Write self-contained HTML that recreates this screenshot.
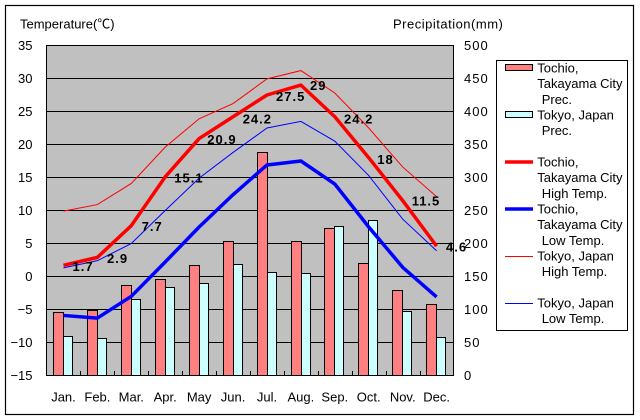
<!DOCTYPE html>
<html><head><meta charset="utf-8"><style>
html,body{margin:0;padding:0;background:#fff;}
svg{display:block;}
text{font-family:"Liberation Sans","Noto Sans CJK JP",sans-serif;font-size:13px;fill:#000;}
.dl{font-weight:bold;letter-spacing:1px;}
.ra{letter-spacing:1px;}
</style></head><body>
<svg width="640" height="420" viewBox="0 0 640 420" xmlns="http://www.w3.org/2000/svg">
<rect x="0" y="0" width="640" height="420" fill="#fff"/>
<rect x="5.5" y="5.5" width="628" height="409" fill="#fff" stroke="#000" stroke-width="1.2"/>
<!-- plot area -->
<rect x="46.5" y="45.5" width="407" height="330" fill="#C0C0C0"/>
<g stroke="#000" stroke-width="1" shape-rendering="crispEdges">
<line x1="46.5" y1="78.5" x2="453.5" y2="78.5"/>
<line x1="46.5" y1="111.5" x2="453.5" y2="111.5"/>
<line x1="46.5" y1="144.5" x2="453.5" y2="144.5"/>
<line x1="46.5" y1="177.5" x2="453.5" y2="177.5"/>
<line x1="46.5" y1="210.5" x2="453.5" y2="210.5"/>
<line x1="46.5" y1="243.5" x2="453.5" y2="243.5"/>
<line x1="46.5" y1="276.5" x2="453.5" y2="276.5"/>
<line x1="46.5" y1="309.5" x2="453.5" y2="309.5"/>
<line x1="46.5" y1="342.5" x2="453.5" y2="342.5"/>
</g>
<!-- bars -->
<g stroke="#000" stroke-width="1" shape-rendering="crispEdges">
<g fill="#FF8080">
<rect x="53.5" y="312.5" width="10" height="63"/>
<rect x="87.5" y="310.5" width="10" height="65"/>
<rect x="121.5" y="285.5" width="10" height="90"/>
<rect x="155.5" y="279.5" width="10" height="96"/>
<rect x="189.5" y="265.5" width="10" height="110"/>
<rect x="223.5" y="241.5" width="10" height="134"/>
<rect x="257.5" y="152.5" width="10" height="223"/>
<rect x="291.5" y="241.5" width="10" height="134"/>
<rect x="324.5" y="228.5" width="10" height="147"/>
<rect x="358.5" y="263.5" width="10" height="112"/>
<rect x="392.5" y="290.5" width="10" height="85"/>
<rect x="426.5" y="304.5" width="10" height="71"/>
</g>
<g fill="#CCFFFF">
<rect x="63.5" y="336.5" width="9" height="39"/>
<rect x="97.5" y="338.5" width="9" height="37"/>
<rect x="131.5" y="299.5" width="9" height="76"/>
<rect x="165.5" y="287.5" width="9" height="88"/>
<rect x="199.5" y="283.5" width="9" height="92"/>
<rect x="233.5" y="264.5" width="9" height="111"/>
<rect x="267.5" y="272.5" width="9" height="103"/>
<rect x="301.5" y="273.5" width="9" height="102"/>
<rect x="334.5" y="226.5" width="9" height="149"/>
<rect x="368.5" y="220.5" width="9" height="155"/>
<rect x="402.5" y="311.5" width="9" height="64"/>
<rect x="436.5" y="337.5" width="9" height="38"/>
</g>
</g>
<!-- lines -->
<polyline fill="none" stroke="#FF0000" stroke-width="3.5" stroke-linejoin="round" points="63.46,265.28 97.38,257.36 131.30,225.68 165.22,176.84 199.14,138.56 233.06,116.78 266.98,95.0 300.90,85.1 334.82,116.78 368.74,157.7 402.66,200.6 436.58,246.14"/>
<polyline fill="none" stroke="#0000FF" stroke-width="3.5" stroke-linejoin="round" points="63.46,315.44 97.38,318.08 131.30,296.3 165.22,261.98 199.14,227.0 233.06,194.66 266.98,164.96 300.90,161.0 334.82,184.1 368.74,227.0 402.66,267.26 436.58,296.96"/>
<polyline fill="none" stroke="#FF0000" stroke-width="1" points="63.46,211.16 97.38,204.56 131.30,183.44 165.22,147.14 199.14,118.76 233.06,103.58 266.98,78.83 300.90,70.58 334.82,93.02 368.74,128.0 402.66,166.94 436.58,196.64"/>
<polyline fill="none" stroke="#0000FF" stroke-width="1" points="63.46,267.92 97.38,260.66 131.30,243.5 165.22,210.5 199.14,178.16 233.06,152.42 266.98,128.0 300.90,121.4 334.82,141.2 368.74,175.52 402.66,219.08 436.58,250.76"/>
<!-- ticks & border -->
<g stroke="#000" stroke-width="1" shape-rendering="crispEdges">
<line x1="80.5" y1="371" x2="80.5" y2="375"/>
<line x1="114.5" y1="371" x2="114.5" y2="375"/>
<line x1="148.5" y1="371" x2="148.5" y2="375"/>
<line x1="182.5" y1="371" x2="182.5" y2="375"/>
<line x1="216.5" y1="371" x2="216.5" y2="375"/>
<line x1="250.5" y1="371" x2="250.5" y2="375"/>
<line x1="284.5" y1="371" x2="284.5" y2="375"/>
<line x1="318.5" y1="371" x2="318.5" y2="375"/>
<line x1="352.5" y1="371" x2="352.5" y2="375"/>
<line x1="386.5" y1="371" x2="386.5" y2="375"/>
<line x1="420.5" y1="371" x2="420.5" y2="375"/>
<rect x="46.5" y="45.5" width="407" height="330" fill="none"/>
</g>
<!-- axis titles -->
<text x="20" y="28.5">Temperature(℃)</text>
<text x="393" y="28.5" style="letter-spacing:0.5px">Precipitation(mm)</text>
<!-- left labels -->
<g text-anchor="end">
<text x="32.5" y="50">35</text>
<text x="32.5" y="83">30</text>
<text x="32.5" y="116">25</text>
<text x="32.5" y="149">20</text>
<text x="32.5" y="182">15</text>
<text x="32.5" y="215">10</text>
<text x="32.5" y="248">5</text>
<text x="32.5" y="281">0</text>
<text x="32.5" y="314">−5</text>
<text x="32.5" y="347">−10</text>
<text x="32.5" y="380">−15</text>
</g>
<!-- right labels -->
<g class="ra">
<text x="464" y="50">500</text>
<text x="464" y="83">450</text>
<text x="464" y="116">400</text>
<text x="464" y="149">350</text>
<text x="464" y="182">300</text>
<text x="464" y="215">250</text>
<text x="464" y="248">200</text>
<text x="464" y="281">150</text>
<text x="464" y="314">100</text>
<text x="464" y="347">50</text>
<text x="464" y="380">0</text>
</g>
<!-- months -->
<g text-anchor="middle">
<text x="63.5" y="401.5">Jan.</text>
<text x="97.4" y="401.5">Feb.</text>
<text x="131.3" y="401.5">Mar.</text>
<text x="165.2" y="401.5">Apr.</text>
<text x="199.1" y="401.5">May</text>
<text x="233.1" y="401.5">Jun.</text>
<text x="267" y="401.5">Jul.</text>
<text x="300.9" y="401.5">Aug.</text>
<text x="334.8" y="401.5">Sep.</text>
<text x="368.7" y="401.5">Oct.</text>
<text x="402.7" y="401.5">Nov.</text>
<text x="436.6" y="401.5">Dec.</text>
</g>
<!-- data labels -->
<g class="dl">
<text x="72.5" y="271">1.7</text>
<text x="107" y="263">2.9</text>
<text x="141.7" y="231">7.7</text>
<text x="174.3" y="182.5">15.1</text>
<text x="207.3" y="144">20.9</text>
<text x="242.7" y="123.3">24.2</text>
<text x="276" y="101">27.5</text>
<text x="310" y="90">29</text>
<text x="344" y="123.3">24.2</text>
<text x="377.3" y="164">18</text>
<text x="411.7" y="205.7">11.5</text>
<text x="446" y="251.7">4.6</text>
</g>
<!-- legend -->
<rect x="496.5" y="60.5" width="131" height="270" fill="#fff" stroke="#000" stroke-width="1" shape-rendering="crispEdges"/>
<g stroke="#000" stroke-width="1" shape-rendering="crispEdges">
<rect x="505.5" y="64.5" width="27" height="6" fill="#FF8080"/>
<rect x="505.5" y="111.5" width="27" height="6" fill="#CCFFFF"/>
</g>
<line x1="505" y1="162" x2="533" y2="162" stroke="#FF0000" stroke-width="3.5"/>
<line x1="505" y1="209" x2="533" y2="209" stroke="#0000FF" stroke-width="3.5"/>
<line x1="505" y1="256.5" x2="533" y2="256.5" stroke="#FF0000" stroke-width="1"/>
<line x1="505" y1="303.5" x2="533" y2="303.5" stroke="#0000FF" stroke-width="1"/>
<text x="537.3" y="72.5">Tochio,</text>
<text x="537.3" y="88.2">Takayama City</text>
<text x="541.7" y="103.9">Prec.</text>
<text x="537.3" y="119.5">Tokyo, Japan</text>
<text x="541.7" y="135.2">Prec.</text>
<text x="537.3" y="166.5">Tochio,</text>
<text x="537.3" y="182.2">Takayama City</text>
<text x="541.7" y="197.9">High Temp.</text>
<text x="537.3" y="213.5">Tochio,</text>
<text x="537.3" y="229.2">Takayama City</text>
<text x="541.7" y="244.9">Low Temp.</text>
<text x="537.3" y="260.5">Tokyo, Japan</text>
<text x="541.7" y="276.2">High Temp.</text>
<text x="537.3" y="307.5">Tokyo, Japan</text>
<text x="541.7" y="323.2">Low Temp.</text>
</svg>
</body></html>
